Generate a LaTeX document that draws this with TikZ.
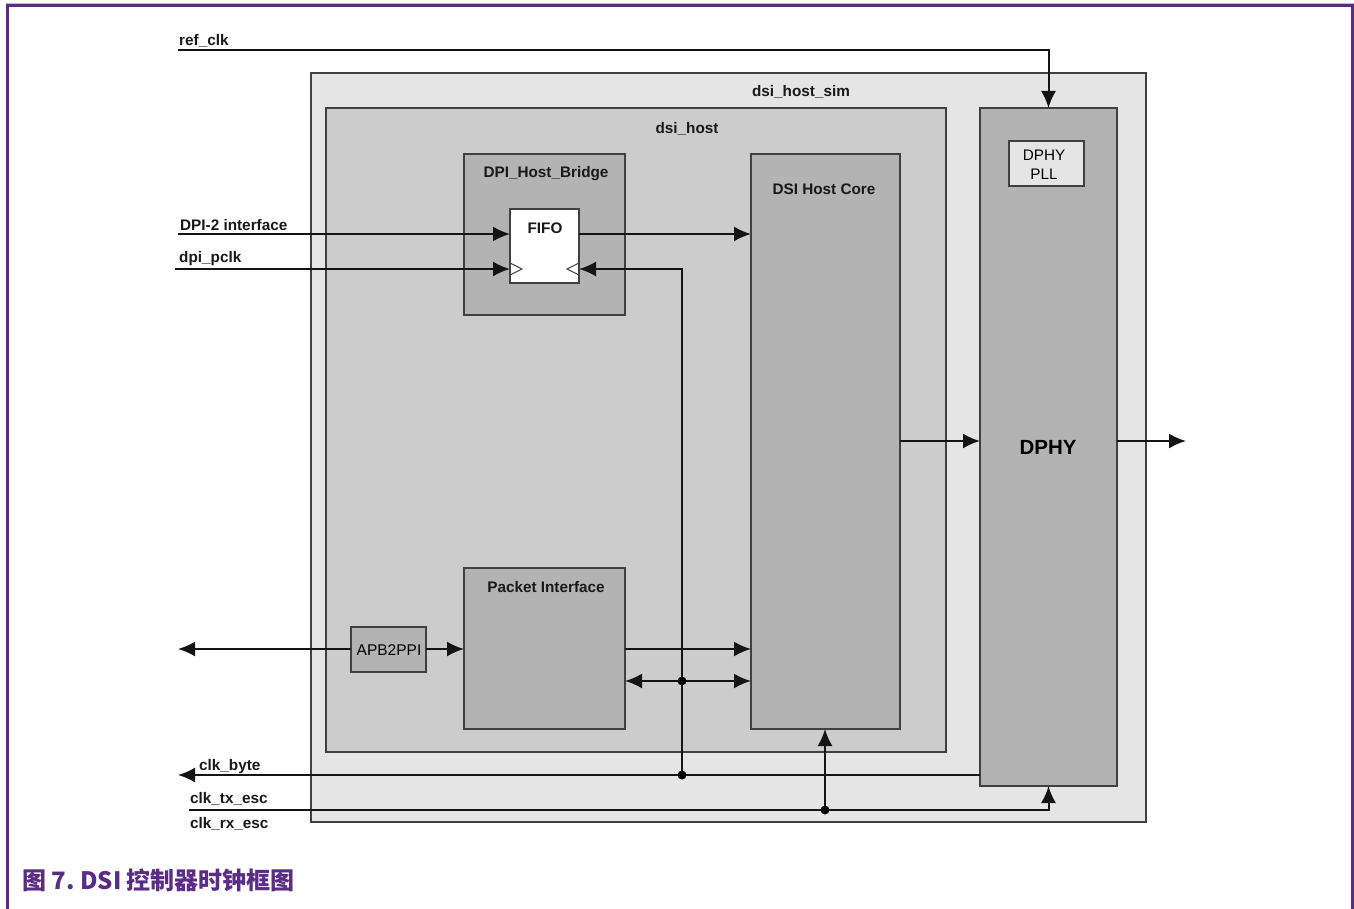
\documentclass[tikz,border=0pt]{standalone}
\usepackage{fontspec}
\setmainfont{Liberation Sans}
\newfontfamily\cjk{Noto Sans CJK SC}
\usetikzlibrary{arrows.meta}
\definecolor{simfill}{HTML}{E5E5E5}
\definecolor{hostfill}{HTML}{CCCCCC}
\definecolor{blkfill}{HTML}{B3B3B3}
\definecolor{edge}{HTML}{404040}
\definecolor{purp}{HTML}{5B2C86}
\tikzset{
  blk/.style={draw=edge, line width=1.5pt, inner sep=0pt, outer sep=0pt, anchor=north west},
  lbl/.style={font=\bfseries\fontsize{15.3}{17}\selectfont, inner sep=0pt, text=black!90},
  tip/.tip={Latex[length=17pt,width=15pt]},
  arr/.style={line width=2pt, draw=black!92, -tip},
  barr/.style={line width=2pt, draw=black!92, tip-tip},
  dot/.style={circle, fill=black, inner sep=0pt, minimum size=9pt},
}
\begin{document}
\begin{tikzpicture}[x=1pt,y=-1pt]
\useasboundingbox[fill=white] (0,0) rectangle (1354,909);
% frame
\draw[purp!35, line width=1pt] (6,3.5) -- (1354,3.5);
\draw[purp, line width=3pt] (7,909) -- (7,6) -- (1352,6) -- (1352,909);

% containers
\node[blk, fill=simfill, minimum width=835pt, minimum height=749pt] (sim) at (311,73) {};
\node[lbl, anchor=base] at (801,97) {dsi\_host\_sim};
\node[blk, fill=hostfill, minimum width=620pt, minimum height=644pt] (host) at (326,108) {};
\node[lbl, anchor=base] at (687,134) {dsi\_host};

% blocks
\node[blk, fill=blkfill, minimum width=161pt, minimum height=161pt] (bridge) at (464,154) {};
\node[lbl, anchor=base] at (546,178) {DPI\_Host\_Bridge};
\node[blk, fill=white, line width=1.2pt, minimum width=69pt, minimum height=74pt] (fifo) at (510,209) {};
\node[lbl, anchor=base] at (545,234) {FIFO};
\draw[edge, line width=1pt] (510,263) -- (522,269) -- (510,275);
\draw[edge, line width=1pt] (579,263) -- (567,269) -- (579,275);

\node[blk, fill=blkfill, minimum width=149pt, minimum height=575pt] (core) at (751,154) {};
\node[lbl, anchor=base] at (824,195) {DSI Host Core};

\node[blk, fill=blkfill, minimum width=137pt, minimum height=678pt] (dphy) at (980,108) {};
\node[font=\bfseries\fontsize{20.5}{22}\selectfont, anchor=base, inner sep=0pt] at (1048,454) {DPHY};
\node[blk, fill=simfill, line width=1.2pt, minimum width=75pt, minimum height=45pt] (pll) at (1009,141) {};
\node[font=\fontsize{15.3}{19}\selectfont, align=center, inner sep=0pt] at (1044,165) {DPHY\\PLL};

\node[blk, fill=blkfill, minimum width=161pt, minimum height=161pt] (pkt) at (464,568) {};
\node[lbl, anchor=base] at (546,592) {Packet Interface};
\node[blk, fill=blkfill, line width=1.2pt, minimum width=75pt, minimum height=45pt] (apb) at (351,627) {};
\node[font=\fontsize{15.5}{17}\selectfont, inner sep=0pt] at (389,650) {APB2PPI};

% coordinates
\coordinate (refin) at (178,50);
\coordinate (dpiin) at (178,234);
\coordinate (pclkin) at (175,269);
\coordinate (apbout) at (178,649);
\coordinate (bytout) at (178,775);
\coordinate (escin) at (189,810);
\coordinate (dphyout) at (1186,441);
\coordinate (jbyte) at (682,775);
\coordinate (jbid) at (682,681);
\coordinate (jesc) at (825,810);

% labels of external signals
\node[lbl, anchor=base west] at (179,46) {ref\_clk};
\node[lbl, anchor=base west] at (180,231) {DPI-2 interface};
\node[lbl, anchor=base west] at (179,262) {dpi\_pclk};
\node[lbl, anchor=base west] at (199,770) {clk\_byte};
\node[lbl, anchor=base west] at (190,803) {clk\_tx\_esc};
\node[lbl, anchor=base west] at (190,828) {clk\_rx\_esc};

% connectors
\draw[arr] (refin) -| (dphy.north);
\draw[arr] (dpiin) -- (dpiin -| fifo.west);
\draw[arr] (pclkin) -- (pclkin -| fifo.west);
\draw[arr] (fifo.east |- dpiin) -- (core.west |- dpiin);
\draw[arr] (jbyte) |- (fifo.east |- pclkin);
\draw[arr] (core.east |- dphyout) -- (dphy.west |- dphyout);
\draw[arr] (dphy.east |- dphyout) -- (dphyout);
\draw[arr] (apb.east |- apbout) -- (pkt.west |- apbout);
\draw[arr] (apb.west |- apbout) -- (apbout);
\draw[arr] (pkt.east |- apbout) -- (core.west |- apbout);
\draw[barr] (pkt.east |- jbid) -- (core.west |- jbid);
\draw[arr] (dphy.west |- bytout) -- (bytout);
\draw[arr] (escin) -| (dphy.south);
\draw[arr] (jesc) -- (core.south -| jesc);
\node[dot] at (jbyte) {};
\node[dot] at (jbid) {};
\node[dot] at (jesc) {};

% caption
\node[anchor=base west, inner sep=0pt, text=purp, font=\cjk\bfseries\fontsize{24}{27}\selectfont] at (22,889) {图 7.\ DSI 控制器时钟框图};
\end{tikzpicture}
\end{document}
